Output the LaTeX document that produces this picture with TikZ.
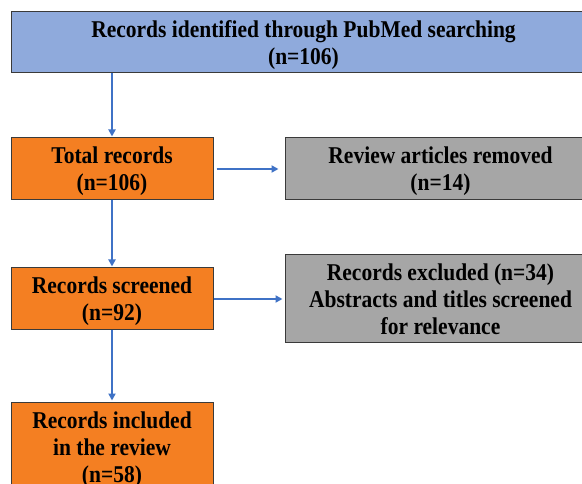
\documentclass[tikz,border=0pt]{standalone}
\usepackage{fontspec}
\setmainfont{Liberation Serif}
\usetikzlibrary{arrows.meta}
\definecolor{topblue}{HTML}{8FAADC}
\definecolor{boxorange}{HTML}{F47F22}
\definecolor{boxgray}{HTML}{A6A6A6}
\definecolor{arrowblue}{HTML}{3F72C6}
\definecolor{edgegray}{HTML}{3A3A3A}
\newcommand{\boxtext}[1]{\raisebox{-3pt}[\height][\depth]{\scalebox{1}[1.12]{\fontsize{21.5}{24.1}\selectfont\bfseries
  \begin{tabular}{@{}c@{}}#1\end{tabular}}}}
\tikzset{
  flowbox/.style={draw=edgegray, line width=1pt, align=center, inner sep=0pt, text=black},
  conn/.style={draw=arrowblue, line width=2.3pt, -{Triangle[length=7pt,width=7pt]}}
}
\begin{document}
\begin{tikzpicture}[x=1pt,y=-1pt]
\useasboundingbox (0,0) rectangle (582,484);
\clip (0,0) rectangle (582,484);
\fill[white] (0,0) rectangle (582,484);
\node[flowbox, fill=topblue, minimum width=585pt, minimum height=61pt] (top) at (303.5,42.5)
  {\boxtext{Records identified through PubMed searching\\(n=106)}};
\node[flowbox, fill=boxorange, minimum width=202pt, minimum height=62pt] (total) at (112,169)
  {\boxtext{Total records\\(n=106)}};
\node[flowbox, fill=boxgray, minimum width=311pt, minimum height=62pt] (rev) at (440.5,169)
  {\boxtext{Review articles removed\\(n=14)}};
\node[flowbox, fill=boxorange, minimum width=202pt, minimum height=62pt] (scr) at (112,299)
  {\boxtext{Records screened\\(n=92)}};
\node[flowbox, fill=boxgray, minimum width=311pt, minimum height=88pt] (exc) at (440.5,299)
  {\boxtext{Records excluded (n=34)\\Abstracts and titles screened\\for relevance}};
\node[flowbox, fill=boxorange, minimum width=202pt, minimum height=90pt] (inc) at (112,447)
  {\boxtext{Records included\\in the review\\(n=58)}};
\draw[conn, shorten >=1pt] (top.south -| total.north) -- (total.north);
\draw[conn, shorten <=3pt, shorten >=6pt] (total.east) -- (rev.west);
\draw[conn, shorten >=1pt] (total.south) -- (scr.north);
\draw[conn, shorten >=2pt] (scr.east) -- (exc.west);
\draw[conn, shorten >=1pt] (scr.south) -- (inc.north);
\end{tikzpicture}
\end{document}
